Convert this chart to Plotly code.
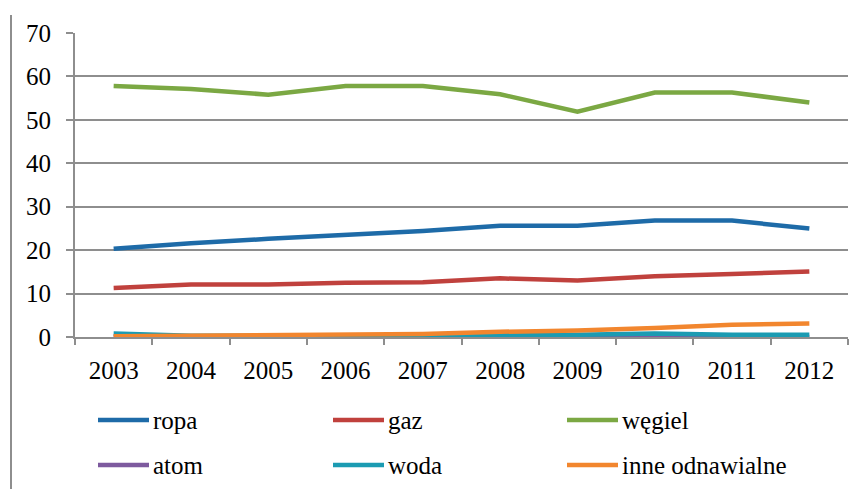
import plotly.graph_objects as go

years = ["2003", "2004", "2005", "2006", "2007", "2008", "2009", "2010", "2011", "2012"]
ropa = [20.3, 21.6, 22.6, 23.5, 24.4, 25.6, 25.6, 26.8, 26.8, 25.0]
gaz = [11.3, 12.1, 12.1, 12.5, 12.6, 13.5, 13.0, 14.0, 14.5, 15.1]
wegiel = [57.8, 57.1, 55.8, 57.8, 57.8, 55.9, 51.9, 56.3, 56.3, 54.0]
atom = [0, 0, 0, 0, 0, 0, 0, 0.1, 0, 0]
woda = [0.8, 0.3, 0.3, 0.3, 0.3, 0.4, 0.5, 0.8, 0.5, 0.5]
inne = [0.2, 0.3, 0.3, 0.4, 0.7, 1.2, 1.5, 2.1, 2.8, 3.1]

names = ["ropa", "gaz", "węgiel", "atom", "woda", "inne odnawialne"]
series = [ropa, gaz, wegiel, atom, woda, inne]
colors = ["#1E6BA8", "#C0413D", "#7BA843", "#7D5A9E", "#1B9BB2", "#F2862E"]
order = [2, 0, 1, 3, 4, 5]

W, H = 867, 489
L, R, T, B = 75, 19, 33, 152
pw, ph = W - L - R, H - T - B
FONT = "Liberation Serif, Times New Roman, serif"
GRID = "#8E8E8E"

def px_x(x):
    return (x - L) / pw

def px_y(y):
    return (H - B - y) / ph

fig = go.Figure()
for i in order:
    fig.add_trace(go.Scatter(
        x=years, y=series[i], mode="lines", name=names[i],
        line=dict(color=colors[i], width=4.5), showlegend=False,
    ))

col_line_x = [98, 333, 567]
row_y = [420, 465]
for k, nm in enumerate(names):
    r, c = divmod(k, 3)
    x0 = col_line_x[c]
    y = row_y[r]
    fig.add_shape(type="line", xref="paper", yref="paper",
                  x0=px_x(x0), x1=px_x(x0 + 51), y0=px_y(y), y1=px_y(y),
                  line=dict(color=colors[k], width=4.5))
    fig.add_annotation(xref="paper", yref="paper", x=px_x(x0 + 53), y=px_y(y),
                       text=nm, showarrow=False, xanchor="left", yanchor="middle",
                       font=dict(family=FONT, size=25, color="#000000"))

fig.add_shape(type="line", xref="paper", yref="paper",
              x0=px_x(11), x1=px_x(11), y0=px_y(15), y1=px_y(489),
              line=dict(color=GRID, width=2))

fig.update_layout(
    width=W, height=H,
    margin=dict(l=L, r=R, t=T, b=B, pad=0),
    paper_bgcolor="white", plot_bgcolor="white",
    font=dict(family=FONT, size=25, color="#000000"),
    showlegend=False,
)
fig.update_xaxes(
    type="category", range=[-0.5, 9.5], tickson="boundaries",
    showline=True, linecolor=GRID, linewidth=2,
    ticks="outside", ticklen=6, tickwidth=2, tickcolor=GRID,
    showgrid=False, zeroline=False, ticklabelstandoff=10,
    tickfont=dict(family=FONT, size=25),
)
fig.update_yaxes(
    range=[0, 70], dtick=10, tick0=0,
    showline=True, linecolor=GRID, linewidth=2,
    ticks="outside", ticklen=7, tickwidth=2, tickcolor=GRID,
    showgrid=True, gridcolor=GRID, gridwidth=2, zeroline=False,
    ticklabelstandoff=10,
    tickfont=dict(family=FONT, size=25),
)

fig.write_html("out.html")
